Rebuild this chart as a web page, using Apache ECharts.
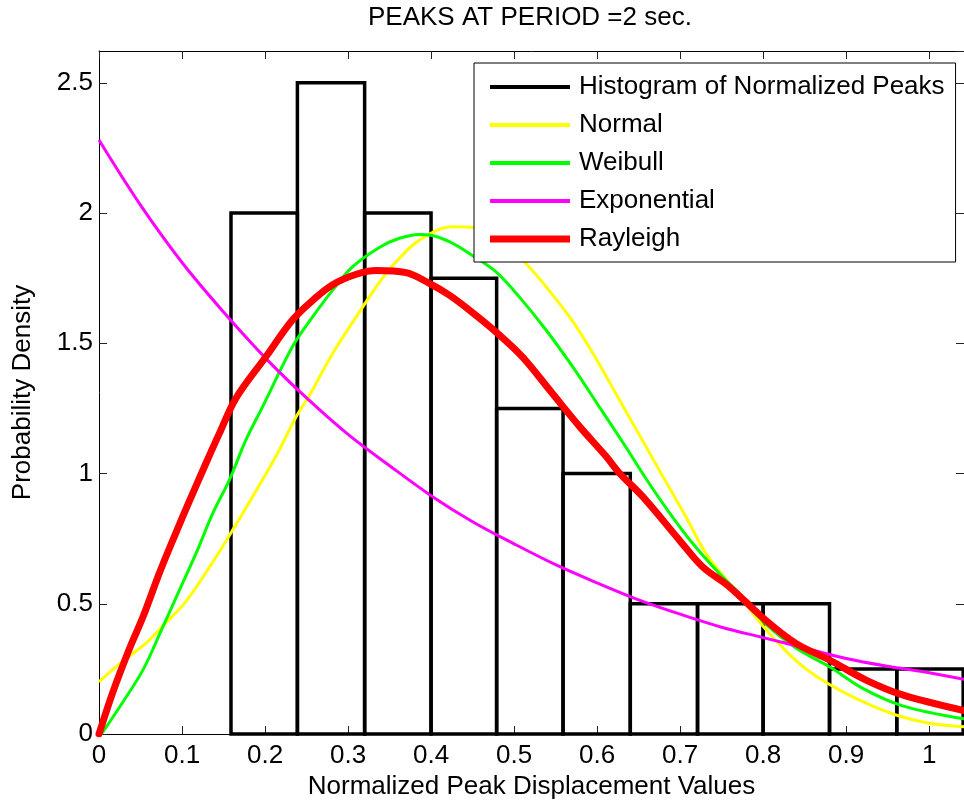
<!DOCTYPE html>
<html>
<head>
<meta charset="utf-8">
<script src="https://cdn.jsdelivr.net/npm/echarts@6/dist/echarts.min.js"></script>
<style>
  html, body { margin: 0; padding: 0; background: #fff; }
  #chart { width: 964px; height: 805px; }
</style>
</head>
<body>
<div id="chart"></div>
<script>
// Histogram of normalized peaks: bin edges and density heights
const binEdges = [0.159, 0.239, 0.320, 0.400, 0.479, 0.559, 0.640, 0.721, 0.800, 0.880, 0.961, 1.041];
const binHeights = [2, 2.5, 2, 1.75, 1.25, 1, 0.5, 0.5, 0.5, 0.25, 0.25];

// Fitted probability densities, [x, density]
const normalPdf = [
  [0, 0.20], [0.025, 0.27], [0.057, 0.35], [0.077, 0.415], [0.105, 0.51], [0.137, 0.66],
  [0.161, 0.783], [0.185, 0.911], [0.213, 1.065], [0.2375, 1.218], [0.2535, 1.30], [0.2815, 1.461],
  [0.31, 1.602], [0.338, 1.735], [0.358, 1.813], [0.386, 1.896], [0.426, 1.947], [0.45, 1.945],
  [0.48, 1.905], [0.514, 1.807], [0.5385, 1.717], [0.5705, 1.585], [0.599, 1.44], [0.627, 1.282],
  [0.659, 1.103], [0.679, 0.99], [0.707, 0.834], [0.731, 0.694], [0.759, 0.579], [0.779, 0.50],
  [0.8005, 0.412], [0.827, 0.32], [0.8515, 0.25], [0.88, 0.19], [0.92, 0.124], [0.96, 0.073],
  [1.0, 0.041], [1.042, 0.028]
];
const weibullPdf = [
  [0.003, 0], [0.029, 0.124], [0.053, 0.246], [0.077, 0.412], [0.097, 0.553], [0.117, 0.694],
  [0.137, 0.847], [0.157, 0.975], [0.177, 1.129], [0.197, 1.256], [0.233, 1.487], [0.2575, 1.602],
  [0.2815, 1.704], [0.3056, 1.794], [0.3377, 1.868], [0.3618, 1.903], [0.386, 1.918], [0.40, 1.915],
  [0.422, 1.890], [0.446, 1.845], [0.478, 1.775], [0.506, 1.679], [0.5385, 1.551], [0.5705, 1.410],
  [0.6027, 1.256], [0.635, 1.10], [0.66, 0.975], [0.687, 0.85], [0.715, 0.732], [0.747, 0.617],
  [0.779, 0.514], [0.8005, 0.43], [0.8395, 0.33], [0.88, 0.258], [0.92, 0.175], [0.968, 0.108],
  [1.042, 0.058]
];
const exponentialPdf = [
  [0, 2.28], [0.05, 2.03], [0.1, 1.81], [0.15, 1.62], [0.2, 1.445], [0.25, 1.29], [0.3, 1.15],
  [0.35, 1.03], [0.4, 0.915], [0.45, 0.815], [0.5, 0.73], [0.55, 0.65], [0.6, 0.58], [0.65, 0.515],
  [0.7, 0.46], [0.75, 0.41], [0.8, 0.37], [0.85, 0.33], [0.9, 0.29], [0.95, 0.26], [1.0, 0.235],
  [1.042, 0.21]
];
const rayleighPdf = [
  [0, 0], [0.0166, 0.16], [0.037, 0.33], [0.053, 0.45], [0.073, 0.62], [0.091, 0.76], [0.109, 0.895],
  [0.127, 1.026], [0.145, 1.154], [0.165, 1.289], [0.201, 1.448], [0.233, 1.589], [0.2575, 1.665],
  [0.2815, 1.725], [0.31, 1.765], [0.334, 1.779], [0.37, 1.771], [0.398, 1.730], [0.422, 1.685],
  [0.446, 1.628], [0.478, 1.544], [0.51, 1.448], [0.546, 1.308], [0.579, 1.180], [0.611, 1.065],
  [0.627, 1.001], [0.655, 0.911], [0.699, 0.745], [0.727, 0.642], [0.759, 0.566], [0.8005, 0.444],
  [0.8395, 0.348], [0.88, 0.284], [0.924, 0.207], [0.968, 0.150], [1.042, 0.090]
];

const seriesNames = ['Histogram of Normalized Peaks', 'Normal', 'Weibull', 'Exponential', 'Rayleigh'];
const titleText = 'PEAKS AT PERIOD =2 sec.';
const xName = 'Normalized Peak Displacement Values';
const yName = 'Probability Density';

const FONT = '"Liberation Sans", Arial, Helvetica, sans-serif';
const X_MAX = 1.042;
const Y_MAX = 2.622;

const histData = binHeights.map((h, i) => [binEdges[i], binEdges[i + 1], h]);

const tickFmt = v => {
  const r = Math.round(v * 10) / 10;
  return Math.abs(r - v) < 1e-6 ? String(r) : '';
};

const baseAxis = {
  axisLine: { show: true, onZero: false, lineStyle: { color: '#000', width: 1 } },
  axisTick: { show: true, inside: true, length: 8, lineStyle: { color: '#222', width: 1 } },
  splitLine: { show: false }
};

const chart = echarts.init(document.getElementById('chart'), null, { renderer: 'canvas' });

chart.setOption({
  animation: false,
  backgroundColor: '#fff',
  title: {
    text: titleText,
    left: 368,
    top: 5,
    padding: 0,
    textStyle: { fontFamily: FONT, fontSize: 26, fontWeight: 'normal', color: '#000', lineHeight: 26 }
  },
  grid: { left: 99, top: 51, width: 866, height: 683, containLabel: false },
  legend: {
    orient: 'vertical',
    left: 474,
    top: 63,
    padding: [11, 11, 10, 16],
    itemWidth: 80,
    itemHeight: 8,
    itemGap: 12,
    backgroundColor: '#fff',
    borderColor: '#000',
    borderWidth: 1,
    borderRadius: 0,
    selectedMode: false,
    itemStyle: { borderWidth: 0 },
    textStyle: { fontFamily: FONT, fontSize: 26, color: '#000', lineHeight: 26, padding: [0, 0, 0, 4] },
    data: [
      { name: seriesNames[0], icon: 'path://M0,0H80V4H0Z' },
      { name: seriesNames[1], icon: 'path://M0,0H80V4H0Z' },
      { name: seriesNames[2], icon: 'path://M0,0H80V4H0Z' },
      { name: seriesNames[3], icon: 'path://M0,0H80V4H0Z' },
      { name: seriesNames[4], icon: 'path://M0,0H80V7H0Z' }
    ]
  },
  xAxis: [
    Object.assign({}, baseAxis, {
      type: 'value', position: 'bottom', min: 0, max: X_MAX, interval: 0.1,
      name: xName, nameLocation: 'middle', nameGap: 40,
      nameTextStyle: { fontFamily: FONT, fontSize: 26, color: '#000', lineHeight: 26 },
      axisLabel: { show: true, margin: 9, fontFamily: FONT, fontSize: 26, color: '#000', lineHeight: 26,
                   showMaxLabel: false, formatter: tickFmt }
    }),
    Object.assign({}, baseAxis, {
      type: 'value', position: 'top', min: 0, max: X_MAX, interval: 0.1,
      axisLabel: { show: false }
    })
  ],
  yAxis: [
    Object.assign({}, baseAxis, {
      type: 'value', position: 'left', min: 0, max: Y_MAX, interval: 0.5,
      name: yName, nameLocation: 'middle', nameGap: 63,
      nameTextStyle: { fontFamily: FONT, fontSize: 26, color: '#000', lineHeight: 26 },
      axisLabel: { show: true, margin: 6, fontFamily: FONT, fontSize: 26, color: '#000',
                   showMaxLabel: false, formatter: v => (Math.abs(v / 0.5 - Math.round(v / 0.5)) < 1e-6 ? String(Math.round(v * 10) / 10) : '') }
    }),
    Object.assign({}, baseAxis, {
      type: 'value', position: 'right', min: 0, max: Y_MAX, interval: 0.5,
      axisLabel: { show: false }
    })
  ],
  series: [
    {
      name: seriesNames[0],
      type: 'custom',
      xAxisIndex: 0,
      yAxisIndex: 0,
      itemStyle: { color: '#000' },
      encode: { x: [0, 1], y: 2 },
      data: histData,
      z: 1,
      renderItem: function (params, api) {
        const topLeft = api.coord([api.value(0), api.value(2)]);
        const bottomRight = api.coord([api.value(1), 0]);
        return {
          type: 'rect',
          shape: {
            x: topLeft[0], y: topLeft[1],
            width: bottomRight[0] - topLeft[0],
            height: bottomRight[1] - topLeft[1]
          },
          style: { fill: 'none', stroke: '#000', lineWidth: 3.5 }
        };
      }
    },
    {
      name: seriesNames[1], type: 'line', data: normalPdf, symbol: 'none', smooth: 0.35, z: 2,
      color: '#ffff00', lineStyle: { color: '#ffff00', width: 3 }
    },
    {
      name: seriesNames[2], type: 'line', data: weibullPdf, symbol: 'none', smooth: 0.35, z: 3,
      color: '#00ff00', lineStyle: { color: '#00ff00', width: 3 }
    },
    {
      name: seriesNames[3], type: 'line', data: exponentialPdf, symbol: 'none', smooth: 0.35, z: 3,
      color: '#ff00ff', lineStyle: { color: '#ff00ff', width: 3 }
    },
    {
      name: seriesNames[4], type: 'line', data: rayleighPdf, symbol: 'none', smooth: 0.35, z: 3,
      color: '#ff0000', lineStyle: { color: '#ff0000', width: 7, join: 'round', cap: 'round' }
    }
  ]
});
</script>
</body>
</html>
